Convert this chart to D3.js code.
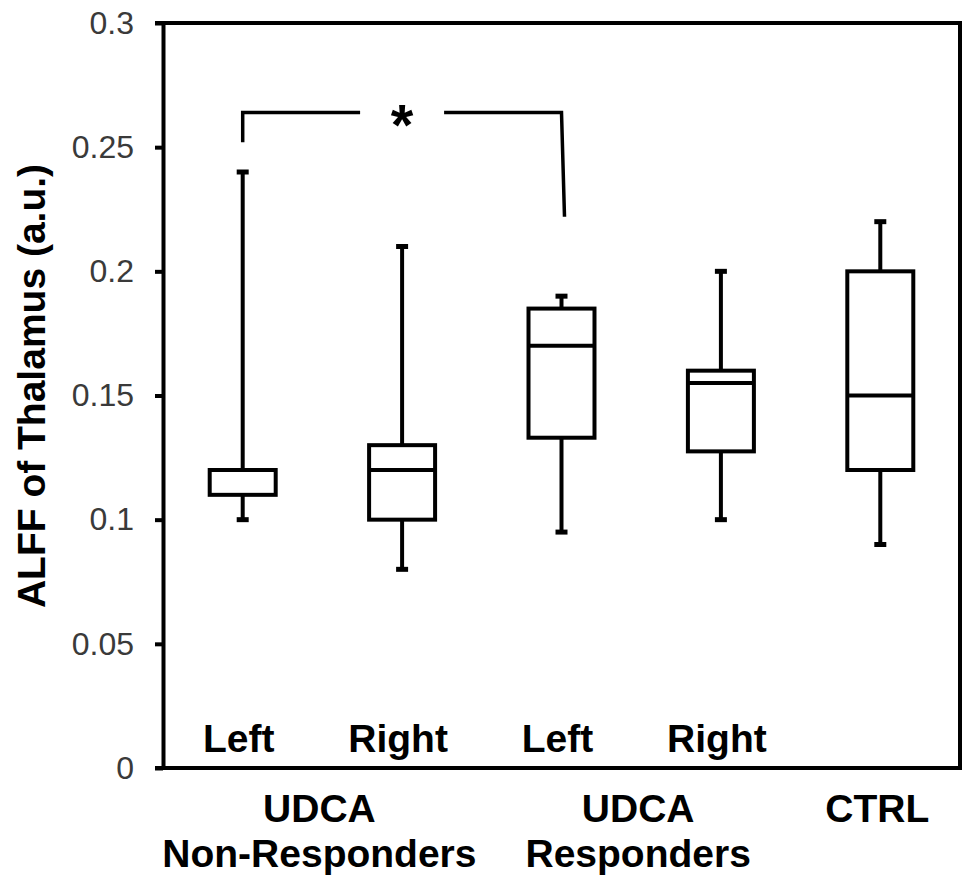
<!DOCTYPE html>
<html>
<head>
<meta charset="utf-8">
<script src="https://cdn.jsdelivr.net/npm/d3@7"></script>
<style>
  body { margin: 0; background: #fff; }
  svg { display: block; font-family: "Liberation Sans", Arial, sans-serif; }
</style>
</head>
<body>
<div class="container"></div>
<script>
// box plot values
const sides = ["Left", "Right", "Left", "Right", ""];
const whiskerLow = [0.10, 0.08, 0.095, 0.10, 0.09];
const boxLow = [0.11, 0.10, 0.133, 0.1275, 0.12];
const medians = [0.12, 0.12, 0.17, 0.155, 0.15];
const boxHigh = [0.12, 0.13, 0.185, 0.16, 0.20];
const whiskerHigh = [0.24, 0.21, 0.19, 0.20, 0.22];

const groupLabels = [["UDCA", "Non-Responders"], ["UDCA", "Responders"], ["CTRL"]];
const groupMembers = [[0, 1], [2, 3], [4]];

const yTicks = [0, 0.05, 0.1, 0.15, 0.2, 0.25, 0.3];

// significance bracket between box 0 and box 2
const bracket = { from: 0, to: 2, top: 0.264, leftEnd: 0.252, rightEnd: 0.222, label: "*" };

const width = 964, height = 878;
const plotLeft = 163, plotRight = 960, plotTop = 23, plotBottom = 768;

const svg = d3.select(".container")
    .append("svg")
    .attr("width", width)
    .attr("height", height);

const x = d3.scalePoint()
    .domain(d3.range(sides.length))
    .range([plotLeft, plotRight])
    .padding(0.5);

const y = d3.scaleLinear()
    .domain([0, 0.3])
    .range([plotBottom, plotTop]);

const boxW = x.step() * 0.414;

// axis frame
const yAxis = d3.axisLeft(y)
    .tickValues(yTicks)
    .tickSize(8)
    .tickSizeOuter(0)
    .tickPadding(21)
    .tickFormat(d => d === 0 ? "0" : String(+d.toFixed(2)));

const yAxisG = svg.append("g")
    .attr("transform", `translate(${plotLeft},0)`)
    .call(yAxis);
yAxisG.select(".domain").attr("stroke-width", 4);
yAxisG.selectAll(".tick line").attr("stroke-width", 4);
yAxisG.selectAll(".tick text")
    .attr("font-size", 32)
    .attr("fill", "#3a3a3a")
    .attr("font-family", "'Liberation Sans', Arial, sans-serif");

svg.append("line")
    .attr("x1", plotLeft - 8).attr("x2", plotRight + 2)
    .attr("y1", y(0.3)).attr("y2", y(0.3))
    .attr("stroke", "#000").attr("stroke-width", 4);
svg.append("line")
    .attr("x1", plotLeft - 8).attr("x2", plotRight + 2)
    .attr("y1", y(0)).attr("y2", y(0))
    .attr("stroke", "#000").attr("stroke-width", 4);
svg.append("line")
    .attr("x1", plotRight).attr("x2", plotRight)
    .attr("y1", y(0.3)).attr("y2", y(0))
    .attr("stroke", "#000").attr("stroke-width", 4);

// boxes
const boxes = svg.append("g")
    .selectAll("g")
    .data(d3.range(sides.length))
    .join("g")
    .attr("stroke", "#000")
    .attr("stroke-width", 4)
    .attr("fill", "none");

boxes.append("line")
    .attr("x1", i => x(i)).attr("x2", i => x(i))
    .attr("y1", i => y(whiskerHigh[i])).attr("y2", i => y(boxHigh[i]));
boxes.append("line")
    .attr("x1", i => x(i)).attr("x2", i => x(i))
    .attr("y1", i => y(boxLow[i])).attr("y2", i => y(whiskerLow[i]));
boxes.append("line")
    .attr("x1", i => x(i) - 6).attr("x2", i => x(i) + 6)
    .attr("y1", i => y(whiskerHigh[i])).attr("y2", i => y(whiskerHigh[i]))
    .attr("stroke-width", 5);
boxes.append("line")
    .attr("x1", i => x(i) - 6).attr("x2", i => x(i) + 6)
    .attr("y1", i => y(whiskerLow[i])).attr("y2", i => y(whiskerLow[i]))
    .attr("stroke-width", 5);
boxes.append("rect")
    .attr("x", i => x(i) - boxW / 2)
    .attr("width", boxW)
    .attr("y", i => y(boxHigh[i]))
    .attr("height", i => y(boxLow[i]) - y(boxHigh[i]))
    .attr("fill", "#fff");
boxes.append("line")
    .attr("x1", i => x(i) - boxW / 2).attr("x2", i => x(i) + boxW / 2)
    .attr("y1", i => y(medians[i])).attr("y2", i => y(medians[i]));

// side labels inside the plot
svg.append("g")
    .selectAll("text")
    .data(sides)
    .join("text")
    .attr("x", (d, i) => x(i) - 4)
    .attr("y", 752)
    .attr("text-anchor", "middle")
    .attr("font-size", 39)
    .attr("font-weight", "bold")
    .text(d => d);

// group labels below the axis
const groups = svg.append("g")
    .selectAll("text")
    .data(groupLabels)
    .join("text")
    .attr("text-anchor", "middle")
    .attr("font-size", 39)
    .attr("font-weight", "bold")
    .attr("y", 822);

groups.selectAll("tspan")
    .data((d, gi) => d.map(t => ({ t, gi })))
    .join("tspan")
    .attr("x", d => d3.mean(groupMembers[d.gi], i => x(i)) - 3)
    .attr("dy", (d, i) => i === 0 ? 0 : 45)
    .text(d => d.t);

// y axis title
svg.append("text")
    .attr("transform", "translate(45, 386) rotate(-90)")
    .attr("text-anchor", "middle")
    .attr("font-size", 39)
    .attr("font-weight", "bold")
    .text("ALFF of Thalamus (a.u.)");

// significance bracket
const bx1 = x(bracket.from), bx2 = x(bracket.to);
const bmid = (bx1 + bx2) / 2, gap = 42;
const bg = svg.append("g")
    .attr("stroke", "#000")
    .attr("stroke-width", 3.5)
    .attr("fill", "none");
bg.append("path")
    .attr("d", d3.line()([[bx1, y(bracket.leftEnd)], [bx1, y(bracket.top)], [bmid - gap, y(bracket.top)]]));
bg.append("path")
    .attr("d", d3.line()([[bmid + gap, y(bracket.top)], [bx2, y(bracket.top)], [bx2 + 3, y(bracket.rightEnd)]]));
svg.append("text")
    .attr("x", bmid)
    .attr("y", y(bracket.top) + 33)
    .attr("text-anchor", "middle")
    .attr("font-size", 58)
    .attr("font-weight", "bold")
    .text(bracket.label);
</script>
</body>
</html>
